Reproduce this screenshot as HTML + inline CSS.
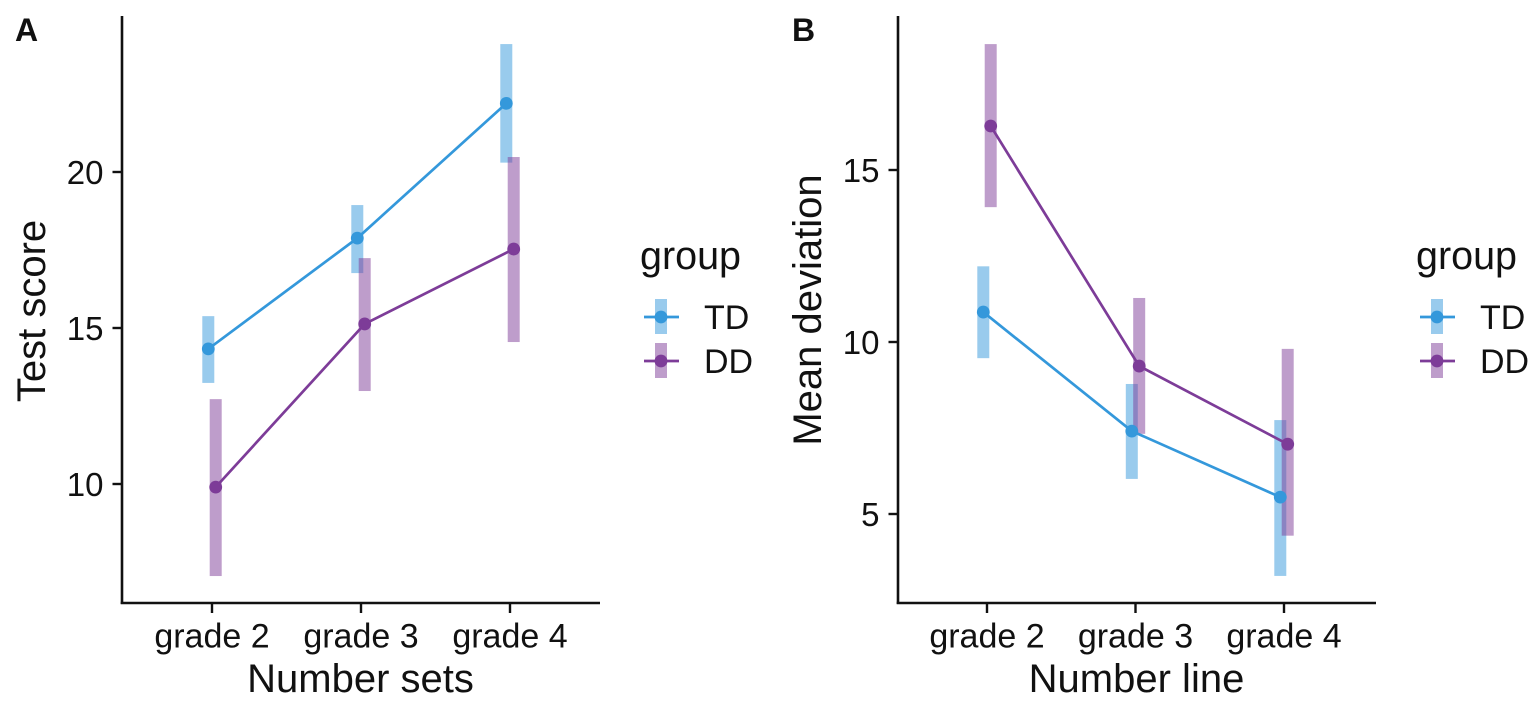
<!DOCTYPE html>
<html>
<head>
<meta charset="utf-8">
<style>
html,body{margin:0;padding:0;background:#fff;width:1535px;height:703px;overflow:hidden}
svg{display:block}
text{font-family:"Liberation Sans",Arial,sans-serif;fill:#111}
</style>
</head>
<body>
<svg id="chart" width="1535" height="703" viewBox="0 0 1535 703" xmlns="http://www.w3.org/2000/svg"></svg>
<script>
const categories = ['grade 2', 'grade 3', 'grade 4'];
const groupNames = ['TD', 'DD'];

const aTicks = [10, 15, 20];
const aTdMean = [14.33, 17.88, 22.2];
const aTdLow = [13.24, 16.76, 20.3];
const aTdHigh = [15.38, 18.94, 24.1];
const aDdMean = [9.9, 15.13, 17.53];
const aDdLow = [7.05, 12.98, 14.55];
const aDdHigh = [12.72, 17.24, 20.48];

const bTicks = [5, 10, 15];
const bTdMean = [10.87, 7.41, 5.49];
const bTdLow = [9.53, 6.02, 3.2];
const bTdHigh = [12.2, 8.78, 7.73];
const bDdMean = [16.28, 9.3, 7.03];
const bDdLow = [13.92, 7.33, 4.37];
const bDdHigh = [18.66, 11.28, 9.8];

const svg = document.getElementById('chart');
const NS = 'http://www.w3.org/2000/svg';
const COLORS = {TD: '#3498db', DD: '#7d3c98'};
const FILLS = {TD: 'rgba(52,152,219,0.5)', DD: 'rgba(125,60,152,0.5)'};

function add(parent, tag, attrs, text) {
  const el = document.createElementNS(NS, tag);
  for (const k in attrs) el.setAttribute(k, attrs[k]);
  if (text !== undefined) el.textContent = text;
  parent.appendChild(el);
  return el;
}

function drawPanel(cfg) {
  const g = add(svg, 'g', {});
  
  

  const yScale = v => cfg.y0 - (v - cfg.v0) * cfg.k;
  const xScale = i => cfg.x0 + i * cfg.dx;

  const tag = add(g, 'text', {x: cfg.tagX, y: 41, 'font-size': 32, 'font-weight': 'bold'}, cfg.id);
  
  

  const series = [
    {name: 'TD', mean: cfg.tdMean, low: cfg.tdLow, high: cfg.tdHigh, off: -3.7},
    {name: 'DD', mean: cfg.ddMean, low: cfg.ddLow, high: cfg.ddHigh, off: 3.7}
  ];

  series.forEach(s => {
    const sg = add(g, 'g', {});
    
    
    s.mean.forEach((m, i) => {
      const bar = add(sg, 'rect', {
        x: xScale(i) + s.off - 6, width: 12,
        y: yScale(s.high[i]), height: yScale(s.low[i]) - yScale(s.high[i]),
        fill: FILLS[s.name]
      });
      
      
    });
  });

  series.forEach(s => {
    const sg = add(g, 'g', {});
    
    
    const line = add(sg, 'polyline', {
      points: s.mean.map((m, i) => (xScale(i) + s.off) + ',' + yScale(m)).join(' '),
      fill: 'none', stroke: COLORS[s.name], 'stroke-width': 2.7
    });
    
    
    s.mean.forEach((m, i) => {
      const pt = add(sg, 'circle', {cx: xScale(i) + s.off, cy: yScale(m), r: 6.4, fill: COLORS[s.name]});
      
      
    });
  });

  const yAxis = add(g, 'line', {x1: cfg.axisX, x2: cfg.axisX, y1: 16, y2: 604, stroke: '#111', 'stroke-width': 2.6});
  
  
  const xAxis = add(g, 'line', {x1: cfg.axisX - 1.3, x2: cfg.axisX + 478, y1: 603, y2: 603, stroke: '#111', 'stroke-width': 2.6});
  
  

  cfg.ticks.forEach(t => {
    const y = yScale(t);
    const tm = add(g, 'line', {x1: cfg.axisX - 9.5, x2: cfg.axisX, y1: y, y2: y, stroke: '#111', 'stroke-width': 2.4});
    
    
    const lb = add(g, 'text', {x: cfg.axisX - 18.5, y: y + 12, 'font-size': 33, 'text-anchor': 'end'}, t);
    
    
  });

  categories.forEach((c, i) => {
    const x = xScale(i);
    const tm = add(g, 'line', {x1: x, x2: x, y1: 603, y2: 613, stroke: '#111', 'stroke-width': 2.4});
    
    
    const lb = add(g, 'text', {x: x, y: 647.5, 'font-size': 34, 'text-anchor': 'middle'}, c);
    
    
  });

  const xt = add(g, 'text', {x: cfg.axisX + 238.5, y: 692, 'font-size': 40, 'text-anchor': 'middle'}, cfg.xTitle);
  
  
  const yt = add(g, 'text', {
    x: 0, y: 0, 'font-size': 40, 'text-anchor': 'middle',
    transform: 'translate(' + (cfg.axisX - 77) + ',' + cfg.yTitleY + ') rotate(-90)'
  }, cfg.yTitle);
  
  

  const leg = add(g, 'g', {});
  
  
  const lt = add(leg, 'text', {x: cfg.legX, y: 269, 'font-size': 39.5}, 'group');
  
  
  groupNames.forEach((n, i) => {
    const cy = 317 + i * 44;
    const cx = cfg.legX + 21;
    const e = add(leg, 'g', {});
    
    
    add(e, 'rect', {x: cx - 6, y: cy - 18, width: 12, height: 35, fill: FILLS[n]});
    add(e, 'line', {x1: cx - 17, x2: cx + 18, y1: cy, y2: cy, stroke: COLORS[n], 'stroke-width': 2.7});
    add(e, 'circle', {cx: cx, cy: cy, r: 6.4, fill: COLORS[n]});
    add(e, 'text', {x: cfg.legX + 64, y: cy + 12, 'font-size': 34}, n);
  });
}

drawPanel({
  id: 'A', tagX: 15, axisX: 122, x0: 212, dx: 149, y0: 484, v0: 10, k: 31.2,
  ticks: aTicks,
  tdMean: aTdMean, tdLow: aTdLow, tdHigh: aTdHigh,
  ddMean: aDdMean, ddLow: aDdLow, ddHigh: aDdHigh,
  xTitle: 'Number sets', yTitle: 'Test score', yTitleY: 311, legX: 640
});
drawPanel({
  id: 'B', tagX: 792, axisX: 898, x0: 987, dx: 148.5, y0: 514, v0: 5, k: 34.4,
  ticks: bTicks,
  tdMean: bTdMean, tdLow: bTdLow, tdHigh: bTdHigh,
  ddMean: bDdMean, ddLow: bDdLow, ddHigh: bDdHigh,
  xTitle: 'Number line', yTitle: 'Mean deviation', yTitleY: 310, legX: 1416
});
</script>
</body>
</html>
